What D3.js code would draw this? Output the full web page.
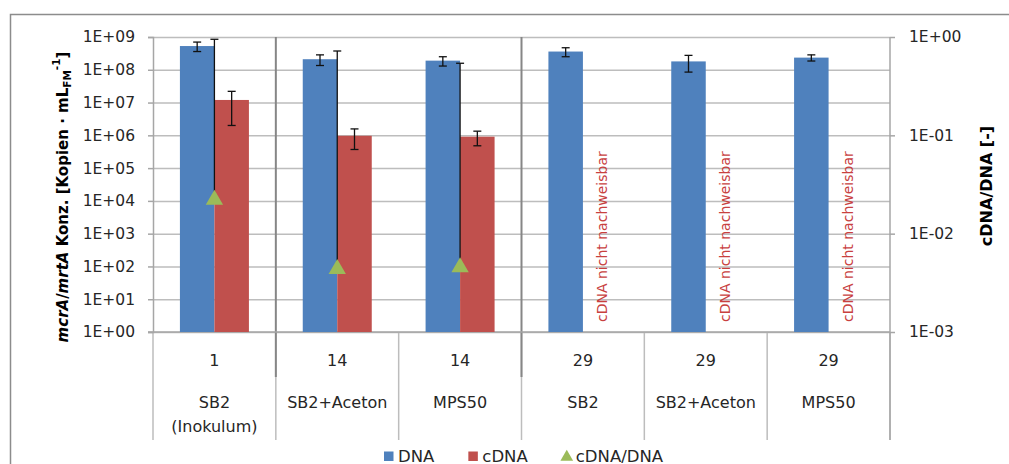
<!DOCTYPE html>
<html>
<head>
<meta charset="utf-8">
<script src="https://cdn.jsdelivr.net/npm/d3@7"></script>
<style>
  html, body { margin: 0; padding: 0; background: #ffffff; }
  svg { display: block; }
</style>
</head>
<body>
<svg id="chart" width="1009" height="464"></svg>
<script>
// ---------------- data ----------------
const categoryKeys = ["c1", "c2", "c3", "c4", "c5", "c6"];
const dayLabels = ["1", "14", "14", "29", "29", "29"];
const sampleLabels = [["SB2", "(Inokulum)"], ["SB2+Aceton"], ["MPS50"], ["SB2"], ["SB2+Aceton"], ["MPS50"]];
const seriesNames = ["DNA", "cDNA", "cDNA/DNA"];
const dnaValues = [5.3e8, 2.1e8, 1.9e8, 3.6e8, 1.8e8, 2.35e8];
const dnaErrors = [1.7e8, 0.75e8, 0.6e8, 1.1e8, 0.95e8, 0.5e8];
const cdnaValues = [1.2e7, 9.7e5, 9.1e5, null, null, null];
const cdnaErrors = [1.0e7, 6.0e5, 4.3e5, null, null, null];
const ratioValues = [0.0229, 0.00453, 0.00471, null, null, null];
const ratioErrors = [0.925, 0.716, 0.536, null, null, null];
const notDetectedText = "cDNA nicht nachweisbar";
const leftTickValues = [1e0, 1e1, 1e2, 1e3, 1e4, 1e5, 1e6, 1e7, 1e8, 1e9];
const leftTickLabels = ["1E+00", "1E+01", "1E+02", "1E+03", "1E+04", "1E+05", "1E+06", "1E+07", "1E+08", "1E+09"];
const rightTickValues = [1e-3, 1e-2, 1e-1, 1e0];
const rightTickLabels = ["1E-03", "1E-02", "1E-01", "1E+00"];
const groupBoundaryAfter = [0, 2]; // dark separators after these category indices

// ---------------- layout ----------------
const W = 1009, H = 464;
const plot = { left: 153, right: 890, top: 37, bottom: 332 };
const colors = { DNA: "#4f81bd", cDNA: "#c0504d", ratio: "#9bbb59", grid: "#bdbdbd", axis: "#a6a6a6", dark: "#868686", text: "#262626", note: "#c8413f" };
const FONT = "'DejaVu Sans', sans-serif";

const svg = d3.select("#chart");

// outer frame
svg.append("rect")
  .attr("x", 10.5).attr("y", 14.5).attr("width", W + 10).attr("height", H + 10)
  .attr("fill", "none").attr("stroke", "#8c8c8c").attr("stroke-width", 1.5);

const x0 = d3.scaleBand().domain(categoryKeys).range([plot.left, plot.right]).paddingInner(0).paddingOuter(0);
const barW = 34.5;
const x1 = d3.scaleBand().domain(["DNA", "cDNA"]).range([-barW, barW]);
const yL = d3.scaleLog().domain([1, 1e9]).range([plot.bottom, plot.top]);
const yR = d3.scaleLog().domain([1e-3, 1]).range([plot.bottom, plot.top]);
const cx = i => x0(categoryKeys[i]) + x0.bandwidth() / 2;

// gridlines
const grid = svg.append("g")
  .attr("transform", `translate(${plot.left},0)`)
  .call(d3.axisLeft(yL).tickValues(leftTickValues).tickSize(-(plot.right - plot.left)).tickFormat(""));
grid.select(".domain").remove();
grid.selectAll("line").attr("stroke", colors.grid).attr("stroke-width", 1.5);

// category boundary lines below axis
const boundaries = categoryKeys.map(k => x0(k)).concat([plot.right]);
svg.append("g").selectAll("line").data(boundaries).join("line")
  .attr("x1", d => d).attr("x2", d => d)
  .attr("y1", plot.bottom).attr("y2", 440)
  .attr("stroke", colors.grid).attr("stroke-width", 1.5);

// dark group separators
svg.append("g").selectAll("line").data(groupBoundaryAfter).join("line")
  .attr("x1", i => x0(categoryKeys[i + 1])).attr("x2", i => x0(categoryKeys[i + 1]))
  .attr("y1", plot.top).attr("y2", 377)
  .attr("stroke", colors.dark).attr("stroke-width", 2);

// left axis
const axL = svg.append("g")
  .attr("transform", `translate(${plot.left},0)`)
  .call(d3.axisLeft(yL).tickValues(leftTickValues).tickSize(5).tickPadding(13)
    .tickFormat((d, i) => leftTickLabels[leftTickValues.indexOf(d)]));
axL.select(".domain").attr("stroke", colors.axis).attr("stroke-width", 1.5);
axL.selectAll(".tick line").attr("stroke", colors.axis).attr("stroke-width", 1.5);
axL.selectAll("text").attr("font-family", FONT).attr("font-size", 15.5).attr("fill", colors.text);

// right axis
const axR = svg.append("g")
  .attr("transform", `translate(${plot.right},0)`)
  .call(d3.axisRight(yR).tickValues(rightTickValues).tickSize(5).tickPadding(14)
    .tickFormat(d => rightTickLabels[rightTickValues.indexOf(d)]));
axR.select(".domain").remove();
axR.selectAll(".tick line").attr("stroke", colors.axis).attr("stroke-width", 1.5);
axR.selectAll("text").attr("font-family", FONT).attr("font-size", 15.5).attr("fill", colors.text);
svg.append("line").attr("x1", plot.right).attr("x2", plot.right).attr("y1", plot.top).attr("y2", 440)
  .attr("stroke", colors.axis).attr("stroke-width", 1.5);

// bottom axis line
svg.append("line").attr("x1", plot.left - 5).attr("x2", plot.right).attr("y1", plot.bottom).attr("y2", plot.bottom)
  .attr("stroke", colors.axis).attr("stroke-width", 1.5);

// bars
const barData = [];
categoryKeys.forEach((k, i) => {
  barData.push({ i, s: "DNA", v: dnaValues[i], e: dnaErrors[i] });
  if (cdnaValues[i] != null) barData.push({ i, s: "cDNA", v: cdnaValues[i], e: cdnaErrors[i] });
});
svg.append("g").selectAll("rect").data(barData).join("rect")
  .attr("x", d => cx(d.i) + x1(d.s))
  .attr("width", x1.bandwidth())
  .attr("y", d => yL(d.v))
  .attr("height", d => yL(1) - yL(d.v))
  .attr("fill", d => colors[d.s]);

// bar error bars
const eb = svg.append("g").attr("stroke", "#111").attr("stroke-width", 1.3);
barData.forEach(d => {
  const xm = cx(d.i) + x1(d.s) + x1.bandwidth() / 2;
  const yt = yL(d.v + d.e), yb = yL(Math.max(d.v - d.e, 1));
  eb.append("line").attr("x1", xm).attr("x2", xm).attr("y1", yt).attr("y2", yb);
  eb.append("line").attr("x1", xm - 4).attr("x2", xm + 4).attr("y1", yt).attr("y2", yt);
  eb.append("line").attr("x1", xm - 4).attr("x2", xm + 4).attr("y1", yb).attr("y2", yb);
});

// ratio error bars (plus direction only; minus falls below log range)
const ratioData = ratioValues.map((v, i) => ({ i, v, e: ratioErrors[i] })).filter(d => d.v != null);
ratioData.forEach(d => {
  const xm = cx(d.i);
  const yt = yR(d.v + d.e), y0 = yR(d.v);
  eb.append("line").attr("x1", xm).attr("x2", xm).attr("y1", yt).attr("y2", y0);
  eb.append("line").attr("x1", xm - 4).attr("x2", xm + 4).attr("y1", yt).attr("y2", yt);
});

// ratio markers
const tri = d3.symbol().type(d3.symbolTriangle).size(130);
svg.append("g").selectAll("path").data(ratioData).join("path")
  .attr("d", tri)
  .attr("transform", d => `translate(${cx(d.i)},${yR(d.v) + 1.5})`)
  .attr("fill", colors.ratio);

// "not detected" notes
svg.append("g").selectAll("text").data(cdnaValues.map((v, i) => ({ v, i })).filter(d => d.v == null)).join("text")
  .attr("transform", d => `translate(${cx(d.i) + x1("cDNA") + x1.bandwidth() / 2 + 2},${plot.bottom - 10}) rotate(-90)`)
  .attr("dominant-baseline", "central")
  .attr("font-family", FONT).attr("font-size", 14).attr("fill", colors.note)
  .text(notDetectedText);

// category labels
const catG = svg.append("g").attr("font-family", FONT).attr("font-size", 16).attr("fill", colors.text).attr("text-anchor", "middle");
dayLabels.forEach((lab, i) => {
  catG.append("text").attr("x", cx(i)).attr("y", 360).attr("dominant-baseline", "central").text(lab);
});
sampleLabels.forEach((lines, i) => {
  lines.forEach((l, j) => {
    catG.append("text").attr("x", cx(i)).attr("y", 402 + j * 24.5).attr("dominant-baseline", "central").text(l);
  });
});

// axis titles
const lt = svg.append("text")
  .attr("transform", "translate(63,197) rotate(-90)")
  .attr("text-anchor", "middle").attr("dominant-baseline", "central")
  .attr("font-family", FONT).attr("font-size", 15).attr("font-weight", "bold").attr("fill", "#000");
lt.append("tspan").attr("font-style", "italic").text("mcrA");
lt.append("tspan").text("/");
lt.append("tspan").attr("font-style", "italic").text("mrtA");
lt.append("tspan").text(" Konz. [Kopien · mL");
lt.append("tspan").attr("font-size", 10.5).attr("dy", 4).text("FM");
lt.append("tspan").attr("font-size", 10.5).attr("dy", -11).text("-1");
lt.append("tspan").attr("dy", 7).text("]");

svg.append("text")
  .attr("transform", "translate(986,186) rotate(-90)")
  .attr("text-anchor", "middle").attr("dominant-baseline", "central")
  .attr("font-family", FONT).attr("font-size", 16).attr("font-weight", "bold").attr("fill", "#000")
  .text("cDNA/DNA [-]");

// legend
const leg = svg.append("g").attr("font-family", FONT).attr("font-size", 16.5).attr("fill", colors.text);
let lx = 384;
const legY = 456;
seriesNames.forEach((name, k) => {
  if (k < 2) {
    leg.append("rect").attr("x", lx).attr("y", legY - 4.5).attr("width", 9.5).attr("height", 9.5)
      .attr("fill", colors[name]);
  } else {
    leg.append("path").attr("d", d3.symbol().type(d3.symbolTriangle).size(70))
      .attr("transform", `translate(${lx + 5},${legY + 1})`).attr("fill", colors.ratio);
  }
  const t = leg.append("text").attr("x", lx + 14).attr("y", legY).attr("dominant-baseline", "central").text(name);
  lx = lx + 14 + t.node().getComputedTextLength() + 34;
});
</script>
</body>
</html>
